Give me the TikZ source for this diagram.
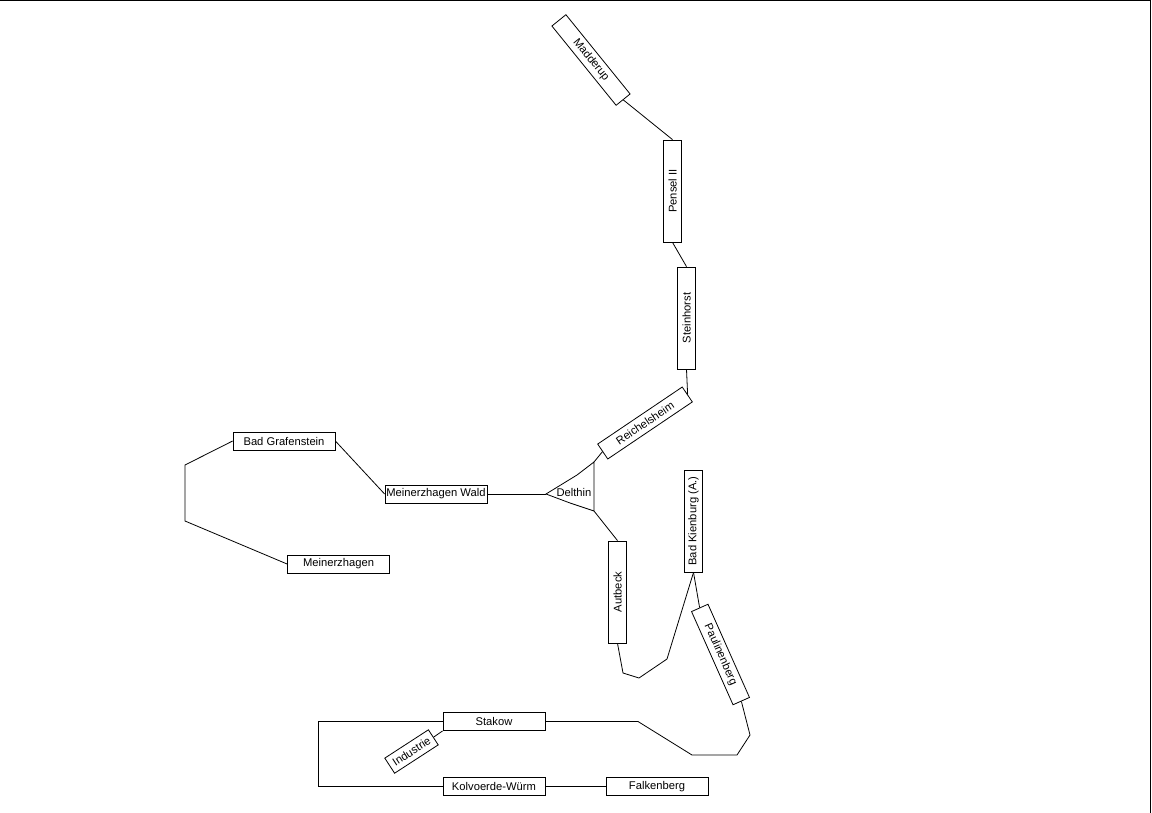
\documentclass[tikz,border=0pt]{standalone}
\usepackage{fontspec}
\setmainfont{Liberation Sans}

\begin{document}
\begin{tikzpicture}[x=0.75pt,y=-0.75pt,line width=0.6pt,
  station/.style={draw, minimum width=76.5pt, minimum height=13.5pt, inner sep=0.5pt,
    font=\fontsize{8.4}{9}\selectfont},
  vstation/.style={station, rotate=90}]
\useasboundingbox (0,0) rectangle (1152,813);
\draw (0,0.7) -- (1150,0.7) -- (1150,813);

% stations
\node[station,rotate=-51] (madd) at (591,60) {Madderup};
\node[vstation] (pens) at (672.5,191) {Pensel II};
\node[vstation] (stein) at (686.5,318) {Steinhorst};
\node[station,rotate=34] (reich) at (645,423) {Reichelsheim};
\node[station] (bgraf) at (284,441) {Bad Grafenstein};
\node[station] (mwald) at (436,494) {Meinerzhagen Wald};
\node[station] (mein) at (338.5,564) {Meinerzhagen};
\node[vstation] (kien) at (693.5,521) {Bad Kienburg (A.)};
\node[vstation] (autb) at (617.5,592) {Autbeck};
\node[station,rotate=-66] (paul) at (720.5,654.5) {Paulinenberg};
\node[station] (stak) at (494,721.5) {Stakow};
\node[station,rotate=33,minimum width=39pt] (ind) at (411.5,751.5) {Industrie};
\node[station] (kolv) at (494,786.5) {Kolvoerde-Würm};
\node[station] (falk) at (657,786.5) {Falkenberg};

% Delthin triangle
\coordinate (dl) at (546,494);
\coordinate (dt) at (594,462);
\coordinate (db) at (594,511);
\draw (dl) -- (577,475) -- (dt) -- (db) -- (570,503) -- cycle;
\node[font=\fontsize{8.4}{9}\selectfont] (delthin) at (574,492) {Delthin};

% lines
\draw (madd.east) -- (pens.east);
\draw (pens.west) -- (stein.east);
\draw (stein.west) -- (reich.east);
\draw (reich.west) -- (dt);
\draw (mwald.east) -- (dl);
\draw (db) -- (autb.east);
\draw (autb.west) -- (623,673) -- (639,678) -- (667,659) -- (kien.west);
\draw (kien.west) -- (paul.west);
\draw (paul.east) -- (750,735) -- (737,755) -- (692,755) -- (638,721.5) -- (stak.east);
\draw (stak.west) -- (318,721.5) -- (318,786.5) -- (kolv.west);
\draw (stak.south west) -- (ind.east);
\draw (kolv.east) -- (falk.west);
\draw (bgraf.west) -- (185,465) -- (185,521) -- (mein.west);
\draw (bgraf.east) -- (mwald.west);
\end{tikzpicture}
\end{document}
